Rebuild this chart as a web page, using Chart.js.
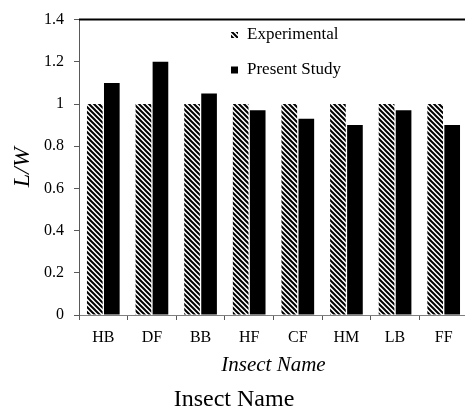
<!DOCTYPE html>
<html>
<head>
<meta charset="utf-8">
<script src="https://cdn.jsdelivr.net/npm/chart.js@4/dist/chart.umd.min.js"></script>
<style>
  html, body { margin: 0; padding: 0; background: #fff; overflow: hidden; }
  #wrap { position: relative; width: 468px; height: 412px; }
</style>
</head>
<body>
<div id="wrap"><canvas id="c"></canvas></div>
<script>
// ---- data ----
const categories = ['HB', 'DF', 'BB', 'HF', 'CF', 'HM', 'LB', 'FF'];
const experimental = [1.0, 1.0, 1.0, 1.0, 1.0, 1.0, 1.0, 1.0];
const presentStudy = [1.10, 1.20, 1.05, 0.97, 0.93, 0.90, 0.97, 0.90];
const seriesNames = ['Experimental', 'Present Study'];
const yTickLabels = ['0', '0.2', '0.4', '0.6', '0.8', '1', '1.2', '1.4'];
const yAxisTitle = 'L/W';
const xAxisTitle = 'Insect Name';
const chartTitle = 'Insect Name';

const SERIF = "'Liberation Serif', 'Times New Roman', serif";

function makeHatch() {
  const s = 5;
  const c = document.createElement('canvas');
  c.width = s; c.height = s;
  const g = c.getContext('2d');
  g.fillStyle = '#fff';
  g.fillRect(0, 0, s, s);
  g.strokeStyle = '#000';
  g.lineWidth = 2;
  g.beginPath();
  g.moveTo(-1, -1); g.lineTo(s + 1, s + 1);
  g.moveTo(-1, s - 1); g.lineTo(1, s + 1);
  g.moveTo(s - 1, -1); g.lineTo(s + 1, 1);
  g.stroke();
  return g.createPattern(c, 'repeat');
}
const hatch = makeHatch();

const legendPlugin = {
  id: 'inLegend',
  afterDraw(chart) {
    const ctx = chart.ctx;
    const a = chart.chartArea;
    const items = chart.data.datasets;
    const rows = [35, 70];
    ctx.save();
    ctx.font = '17px ' + SERIF;
    ctx.textBaseline = 'middle';
    ctx.textAlign = 'left';
    items.forEach((ds, i) => {
      const y = rows[i];
      const sx = a.left + 152;
      ctx.fillStyle = ds.backgroundColor;
      if (i === 0) {
        ctx.fillRect(sx, y - 3, 7, 6);
      } else {
        ctx.fillRect(sx, y - 3.5, 7, 7);
      }
      ctx.fillStyle = '#000';
      ctx.fillText(ds.label, a.left + 168, y);
    });
    ctx.restore();
  }
};

const topLinePlugin = {
  id: 'topLine',
  afterDraw(chart) {
    const ctx = chart.ctx;
    const a = chart.chartArea;
    ctx.save();
    ctx.strokeStyle = '#000';
    ctx.lineWidth = 2;
    ctx.beginPath();
    ctx.moveTo(a.left, a.top);
    ctx.lineTo(chart.width, a.top);
    ctx.stroke();
    ctx.restore();
  }
};

new Chart(document.getElementById('c'), {
  type: 'bar',
  data: {
    labels: categories,
    datasets: [
      { label: seriesNames[0], data: experimental, backgroundColor: hatch, borderWidth: 0,
        categoryPercentage: 0.70, barPercentage: 0.92 },
      { label: seriesNames[1], data: presentStudy, backgroundColor: '#000', borderWidth: 0,
        categoryPercentage: 0.70, barPercentage: 0.92 }
    ]
  },
  options: {
    responsive: true,
    maintainAspectRatio: false,
    animation: false,
    layout: { padding: { left: 0, right: 0, top: 13, bottom: 0 } },
    plugins: {
      legend: { display: false },
      tooltip: { enabled: false },
      title: {
        display: true,
        text: chartTitle,
        position: 'bottom',
        color: '#000',
        font: { family: SERIF, size: 24, weight: 'normal', lineHeight: 1.0 },
        padding: { top: 0, bottom: 0 }
      }
    },
    scales: {
      x: {
        offset: true,
        afterFit(scale) { scale.height = 73; },
        grid: { display: true, offset: true, drawOnChartArea: false, drawTicks: true,
                tickLength: 5, color: '#595959' },
        border: { display: true, color: '#7f7f7f', width: 1 },
        ticks: { color: '#000', padding: 8, font: { family: SERIF, size: 16 }, maxRotation: 0 },
        title: {
          display: true, text: xAxisTitle, color: '#000',
          font: { family: SERIF, size: 21, style: 'italic', lineHeight: 1.2 },
          padding: { top: 0, bottom: 10 }
        }
      },
      y: {
        min: 0, max: 1.4,
        afterFit(scale) { scale.width = 79; },
        grid: { display: true, drawOnChartArea: false, drawTicks: true, tickLength: 5, color: '#595959' },
        border: { display: true, color: '#595959', width: 1 },
        ticks: {
          stepSize: 0.2, color: '#000', padding: 10,
          font: { family: SERIF, size: 16 },
          callback: (v, i) => yTickLabels[i]
        },
        title: {
          display: true, text: yAxisTitle, color: '#000',
          font: { family: SERIF, size: 24, style: 'italic', lineHeight: 1.2 },
          padding: { top: 8, bottom: 0 }
        }
      }
    }
  },
  plugins: [legendPlugin, topLinePlugin]
});
</script>
</body>
</html>
